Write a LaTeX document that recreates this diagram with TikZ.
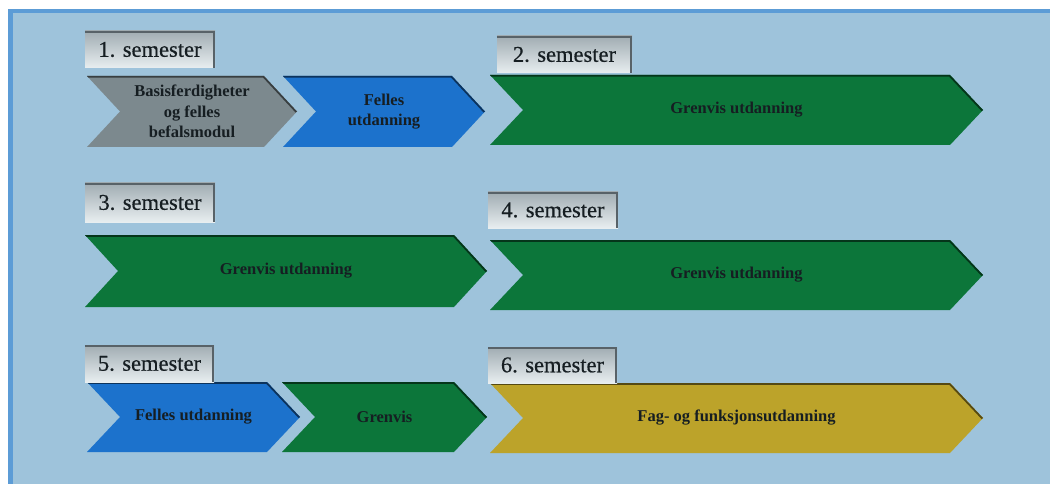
\documentclass[tikz,border=0pt]{standalone}
\usepackage{fontspec}
\setmainfont{Liberation Serif}
\newfontfamily\tabfont[FakeBold=0.5]{Liberation Serif}
\definecolor{bgblue}{RGB}{158,195,219}
\definecolor{framecol}{RGB}{92,156,214}
\definecolor{cgray}{RGB}{124,137,142}
\definecolor{cblue}{RGB}{28,114,204}
\definecolor{cgreen}{RGB}{12,118,58}
\definecolor{cyellow}{RGB}{188,163,42}
\definecolor{txt}{RGB}{22,30,34}
\definecolor{tabtop}{RGB}{160,172,178}
\definecolor{tabbot}{RGB}{232,238,240}
\definecolor{tabedge}{RGB}{88,98,104}
\tikzset{
  chevtext/.style={font=\bfseries\fontsize{16.5}{20.5}\selectfont, text=txt, align=center, inner sep=0pt},
  tabbox/.style={top color=tabtop, bottom color=tabbot, font=\tabfont\fontsize{22.5}{26}\selectfont, text=txt, inner sep=0pt},
  tabshade/.style={draw=tabedge, line width=2.2pt},
}
\newcommand\mychevron[7]{%
  \path[fill=#6] (#2,#4) -- (#3-33,#4) -- (#3,{(#4+#5)/2}) -- (#3-33,#5) -- (#2,#5) -- (#2+33,{(#4+#5)/2}) -- cycle;
  \begin{scope}
    \clip (#2,#4) -- (#3-33,#4) -- (#3,{(#4+#5)/2}) -- (#3-33,#5) -- (#2,#5) -- (#2+33,{(#4+#5)/2}) -- cycle;
    \draw[line width=3.5pt, #6!45!black] (#2-5,#4) -- (#3-33,#4) -- (#3,{(#4+#5)/2});
  \end{scope}
  \node[chevtext] (#1) at ({(#2+#3)/2},{(#4+#5)/2}) {#7};
}
\newcommand\mytab[6]{% name, cx, cy, w, h, text
  \node[tabbox, minimum width=#4pt, minimum height=#5pt] (#1) at (#2,#3) {#6};
  \draw[tabshade] ([yshift=-1.1pt]#1.north west) -- ([xshift=-1.1pt,yshift=-1.1pt]#1.north east) -- ([xshift=-1.1pt]#1.south east);
}
\begin{document}
\begin{tikzpicture}[x=1pt,y=-1pt]
\useasboundingbox (0,0) rectangle (1050,484);
\fill[white] (0,0) rectangle (1050,484);
\fill[bgblue] (8,9) rectangle (1050,484);
\draw[framecol, line width=4.5pt] (10.5,484) -- (10.5,11.2) -- (1050,11.2);

\mychevron{c1}{87}{297}{76}{147}{cgray}{Basisferdigheter\\og felles\\befalsmodul}
\mychevron{c2}{283}{485}{76}{147}{cblue}{Felles\\utdanning}
\mychevron{c3}{490}{983}{75}{145}{cgreen}{Grenvis utdanning}
\mychevron{c4}{85}{487}{235}{307}{cgreen}{Grenvis utdanning}
\mychevron{c5}{490}{983}{240}{310}{cgreen}{Grenvis utdanning}
\mychevron{c6}{87}{300}{382}{452}{cblue}{Felles utdanning}
\mychevron{c7}{282}{487}{382}{452}{cgreen}{Grenvis}
\mychevron{c8}{490}{983}{383}{453}{cyellow}{Fag- og funksjonsutdanning}

\mytab{t1}{150}{49.5}{130}{37}{1. semester}
\mytab{t2}{564.5}{54.5}{135}{37}{2. semester}
\mytab{t3}{150}{202.5}{130}{39}{3. semester}
\mytab{t4}{553}{210}{130}{36}{4. semester}
\mytab{t5}{149.5}{363.5}{129}{37}{5. semester}
\mytab{t6}{552.5}{365}{129}{36}{6. semester}
\end{tikzpicture}
\end{document}
